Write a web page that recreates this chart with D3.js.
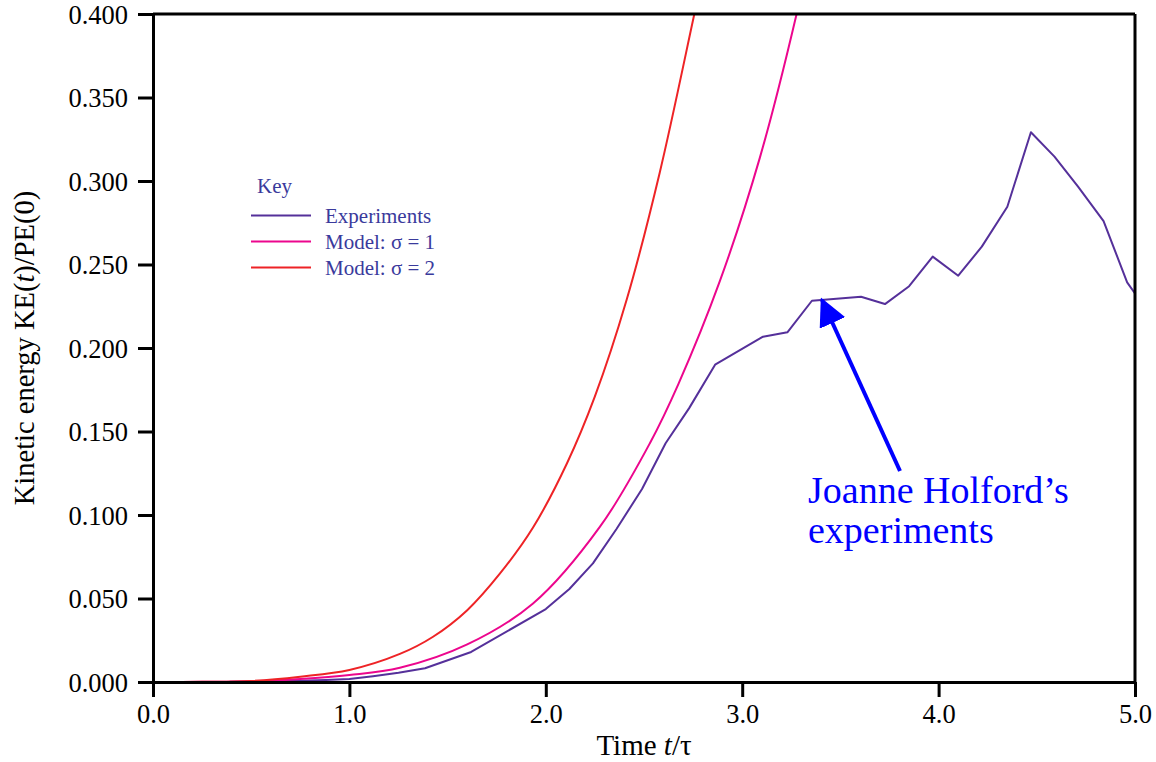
<!DOCTYPE html>
<html>
<head>
<meta charset="utf-8">
<script src="https://cdn.jsdelivr.net/npm/d3@7"></script>
<style>
  body { margin: 0; background: #fff; }
  svg { display: block; font-family: "Liberation Serif", "Times New Roman", serif; }
</style>
</head>
<body>
<svg id="chart" width="1156" height="762"></svg>
<script>
// experiments (Joanne Holford)
const expTime = [0.39, 0.5, 0.63, 0.75, 0.88, 1.0, 1.12, 1.25, 1.385, 1.62, 2.0, 2.12, 2.24, 2.36, 2.49, 2.61, 2.73, 2.862,
  3.106, 3.23, 3.355, 3.605, 3.727, 3.85, 3.97, 4.10, 4.22, 4.35, 4.47, 4.59, 4.71, 4.84, 4.96, 5.0];
const expKE = [0.0002, 0.0003, 0.0005, 0.0008, 0.0012, 0.0018, 0.0035, 0.0056, 0.0082, 0.018, 0.0437, 0.0557, 0.071, 0.0916,
  0.1156, 0.143, 0.164, 0.19, 0.2068, 0.2094, 0.2283, 0.2307, 0.2263, 0.237, 0.2547, 0.2433, 0.2607, 0.2846, 0.3292,
  0.3146, 0.2966, 0.276, 0.2393, 0.2327];

// model sigma = 1
const sig1Time = [0, 0.25, 0.5, 0.75, 1.0, 1.257, 1.6, 1.935, 2.276, 2.53, 2.675, 2.887, 3.09, 3.277, 3.35];
const sig1KE = [0, 0.0001, 0.0004, 0.0018, 0.0042, 0.0085, 0.0225, 0.047, 0.093, 0.143, 0.1784, 0.2403, 0.314, 0.4, 0.44];

// model sigma = 2
const sig2Time = [0, 0.25, 0.5, 0.75, 1.0, 1.257, 1.426, 1.6, 1.767, 1.935, 2.108, 2.25, 2.412, 2.58, 2.76, 2.83];
const sig2KE = [0, 0.0001, 0.0006, 0.0032, 0.0072, 0.0168, 0.0271, 0.043, 0.065, 0.0925, 0.131, 0.171, 0.229, 0.305, 0.402, 0.44];

const xTicks = [0, 1, 2, 3, 4, 5];
const yTicks = [0, 0.05, 0.1, 0.15, 0.2, 0.25, 0.3, 0.35, 0.4];

const legendLabels = ["Experiments", "Model: \u03c3 = 1", "Model: \u03c3 = 2"];
const colors = ["#55309a", "#ec068d", "#ee2326"];

const margin = { left: 153, right: 21, top: 14, bottom: 80 };
const width = 1156, height = 762;

const svg = d3.select("#chart");

const x = d3.scaleLinear().domain([0, 5]).range([margin.left, width - margin.right]);
const y = d3.scaleLinear().domain([0, 0.4]).range([height - margin.bottom, margin.top]);

svg.append("clipPath").attr("id", "plot-clip")
  .append("rect")
  .attr("x", x(0)).attr("y", y(0.4))
  .attr("width", x(5) - x(0)).attr("height", y(0) - y(0.4));

const series = [
  { t: expTime, v: expKE, curve: d3.curveLinear },
  { t: sig1Time, v: sig1KE, curve: d3.curveCatmullRom.alpha(0.5) },
  { t: sig2Time, v: sig2KE, curve: d3.curveCatmullRom.alpha(0.5) }
];

const plot = svg.append("g").attr("clip-path", "url(#plot-clip)");
series.forEach((s, i) => {
  const pts = s.t.map((t, j) => [t, s.v[j]]);
  const line = d3.line().x(d => x(d[0])).y(d => y(d[1])).curve(s.curve);
  plot.append("path")
    .attr("d", line(pts))
    .attr("fill", "none")
    .attr("stroke", colors[i])
    .attr("stroke-width", 2)
    .attr("stroke-linejoin", "round");
});

// frame: top and right lines
svg.append("line")
  .attr("x1", x(0)).attr("x2", x(5)).attr("y1", y(0.4)).attr("y2", y(0.4))
  .attr("stroke", "#000").attr("stroke-width", 3);
svg.append("line")
  .attr("x1", x(5)).attr("x2", x(5)).attr("y1", y(0.4)).attr("y2", y(0))
  .attr("stroke", "#000").attr("stroke-width", 3);

const xAxis = svg.append("g")
  .attr("transform", `translate(0,${y(0)})`)
  .call(d3.axisBottom(x).tickValues(xTicks).tickFormat(d3.format(".1f")).tickSize(15).tickSizeOuter(0));
const yAxis = svg.append("g")
  .attr("transform", `translate(${x(0)},0)`)
  .call(d3.axisLeft(y).tickValues(yTicks).tickFormat(d3.format(".3f")).tickSize(15).tickSizeOuter(0));

[xAxis, yAxis].forEach(g => {
  g.select(".domain").attr("stroke", "#000").attr("stroke-width", 3);
  g.selectAll(".tick line").attr("stroke", "#000").attr("stroke-width", 3);
  g.selectAll(".tick text")
    .attr("fill", "#000")
    .style("font-family", "'Liberation Serif', 'Times New Roman', serif")
    .style("font-size", "26.5px");
});
xAxis.selectAll(".tick text").attr("dy", "0.95em").attr("y", 16);
yAxis.selectAll(".tick text").attr("x", -25).attr("dy", "0.34em");

// axis titles
const xTitle = svg.append("text")
  .attr("x", (x(0) + x(5)) / 2).attr("y", 755)
  .attr("text-anchor", "middle")
  .style("font-size", "29px");
xTitle.append("tspan").text("Time ");
xTitle.append("tspan").style("font-style", "italic").text("t");
xTitle.append("tspan").text("/\u03c4");

const yTitle = svg.append("text")
  .attr("transform", `translate(34,${(y(0) + y(0.4)) / 2}) rotate(-90)`)
  .attr("text-anchor", "middle")
  .style("font-size", "28.5px");
yTitle.append("tspan").text("Kinetic energy KE(");
yTitle.append("tspan").style("font-style", "italic").text("t");
yTitle.append("tspan").text(")/PE(0)");

// legend
const legend = svg.append("g").attr("transform", "translate(251,0)");
legend.append("text")
  .attr("x", 6).attr("y", 193)
  .attr("fill", "#3a3a9c")
  .style("font-size", "21px")
  .text("Key");
legendLabels.forEach((label, i) => {
  const ly = 215.5 + i * 26;
  legend.append("line")
    .attr("x1", 0).attr("x2", 60).attr("y1", ly).attr("y2", ly)
    .attr("stroke", colors[i]).attr("stroke-width", 2);
  legend.append("text")
    .attr("x", 74).attr("y", ly + 7)
    .attr("fill", "#3a3a9c")
    .style("font-size", "21px")
    .text(label);
});

// annotation
const defs = svg.append("defs");
defs.append("marker")
  .attr("id", "arrowhead")
  .attr("viewBox", "0 0 10 10")
  .attr("refX", 9).attr("refY", 5)
  .attr("markerWidth", 7).attr("markerHeight", 7)
  .attr("markerUnits", "strokeWidth")
  .attr("orient", "auto")
  .append("path").attr("d", "M0,0 L10,5 L0,10 Z").attr("fill", "#0000ff");

svg.append("line")
  .attr("x1", 900).attr("y1", 471)
  .attr("x2", 822).attr("y2", 300)
  .attr("stroke", "#0000ff").attr("stroke-width", 4)
  .attr("marker-end", "url(#arrowhead)");

const note = svg.append("text")
  .attr("x", 808).attr("y", 503)
  .attr("fill", "#0000ff")
  .style("font-size", "38px");
note.append("tspan").attr("x", 808).text("Joanne Holford\u2019s");
note.append("tspan").attr("x", 808).attr("dy", 40).text("experiments");
</script>
</body>
</html>
